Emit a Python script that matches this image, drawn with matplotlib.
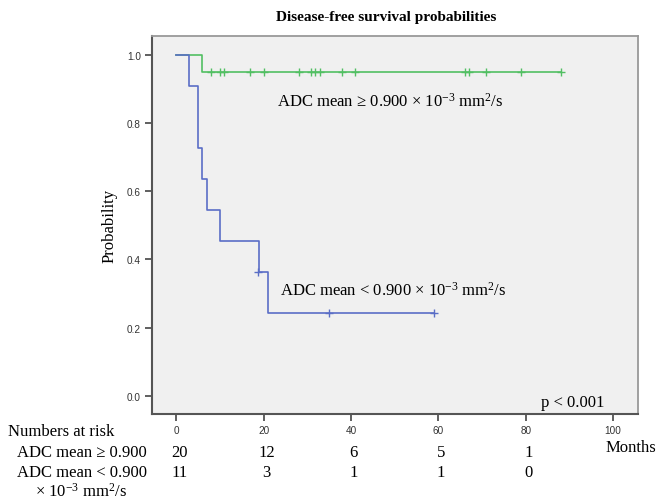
import numpy as np
import matplotlib
matplotlib.use('Agg')
import matplotlib.pyplot as plt
import matplotlib.transforms as mtrans

plt.rcParams['font.family'] = ['Liberation Serif', 'DejaVu Serif']
plt.rcParams['mathtext.fontset'] = 'custom'
plt.rcParams['mathtext.rm'] = 'Liberation Serif'
plt.rcParams['mathtext.it'] = 'Liberation Serif:italic'

# high ADC group (>= 0.900)
hi_t = [0, 5.9, 88]
hi_s = [1.0, 0.95, 0.95]
hi_cens = [7.8, 9.9, 10.9, 16.9, 20, 28, 30.9, 31.8, 32.8, 38, 41, 66, 67, 71, 79, 88]

# low ADC group (< 0.900)
lo_t = [0, 2.9, 4.95, 5.9, 7.0, 9.9, 18.9, 21.0, 59]
lo_s = [1.0, 0.909, 0.727, 0.636, 0.545, 0.455, 0.364, 0.242, 0.242]
lo_cens = [18.7, 35, 59]
lo_cens_s = [0.364, 0.242, 0.242]

risk_times = [0, 20, 40, 60, 80]
risk_hi = [20, 12, 6, 5, 1]
risk_lo = [11, 3, 1, 1, 0]

green = '#52bf63'
blue = '#5a6ec6'

W, H = 657, 502
fig = plt.figure(figsize=(W / 100, H / 100), dpi=100)
ax = fig.add_axes([152 / W, 1 - 415 / H, (638 - 152) / W, (415 - 37) / H])
ax.set_facecolor('#f0f0f0')

ax.step(hi_t, hi_s, where='post', color=green, lw=1.2)
ax.plot(hi_cens, [hi_s[-1]] * len(hi_cens), ls='none', marker='+', ms=6, mew=1, color=green)
ax.step(lo_t, lo_s, where='post', color=blue, lw=1.2)
ax.plot(lo_cens, lo_cens_s, ls='none', marker='+', ms=6, mew=1, color=blue)

ax.set_xlim(-5.6, 105.7)
ax.set_ylim(-0.054, 1.056)
ax.set_xticks([0, 20, 40, 60, 80, 100])
ax.set_yticks([0.0, 0.2, 0.4, 0.6, 0.8, 1.0])
ax.set_yticklabels(['0.0', '0.2', '0.4', '0.6', '0.8', '1.0'])
for lab in ax.get_xticklabels() + ax.get_yticklabels():
    lab.set_family('Liberation Sans')
    lab.set_fontsize(7.2)
    lab.set_color('#333333')
ax.tick_params(direction='out', length=5, width=1.2, color='#444444', pad=3)
for s in ['left', 'bottom']:
    ax.spines[s].set_color('#555555')
    ax.spines[s].set_linewidth(1.5)
for s in ['top', 'right']:
    ax.spines[s].set_color('#999999')
    ax.spines[s].set_linewidth(1.3)

ax.set_ylabel('Probability', fontsize=12, labelpad=7)
fig.text(386 / W, 1 - 18 / H, 'Disease-free survival probabilities', fontsize=11,
         fontweight='bold', ha='center', va='center')

ax.text(23, 0.865, r'ADC mean ≥ 0.900 × 10$^{-3}$ mm$^{2}$/s', fontsize=12,
        ha='left', va='center')
ax.text(23.8, 0.312, r'ADC mean < 0.900 × 10$^{-3}$ mm$^{2}$/s', fontsize=12,
        ha='left', va='center')
ax.text(98, -0.02, 'p < 0.001', fontsize=12, ha='right', va='center')

# numbers at risk table
def fy(y):
    return 1 - y / H

fig.text(8 / W, fy(432), 'Numbers at risk', fontsize=12, ha='left', va='center')
fig.text(17 / W, fy(453), 'ADC mean ≥ 0.900', fontsize=12, ha='left', va='center')
fig.text(17 / W, fy(473), 'ADC mean < 0.900', fontsize=12, ha='left', va='center')
fig.text(35 / W, fy(492), r'× 10$^{-3}$ mm$^{2}$/s', fontsize=12, ha='left', va='center')
fig.text(606 / W, fy(448), 'Months', fontsize=12, ha='left', va='center')

trans = mtrans.blended_transform_factory(ax.transData, fig.transFigure)
for t, a, b in zip(risk_times, risk_hi, risk_lo):
    ax.text(t + 0.6, fy(453), str(a), fontsize=12, ha='center', va='center', transform=trans)
    ax.text(t + 0.6, fy(473), str(b), fontsize=12, ha='center', va='center', transform=trans)

fig.savefig('out.png', dpi=100)
